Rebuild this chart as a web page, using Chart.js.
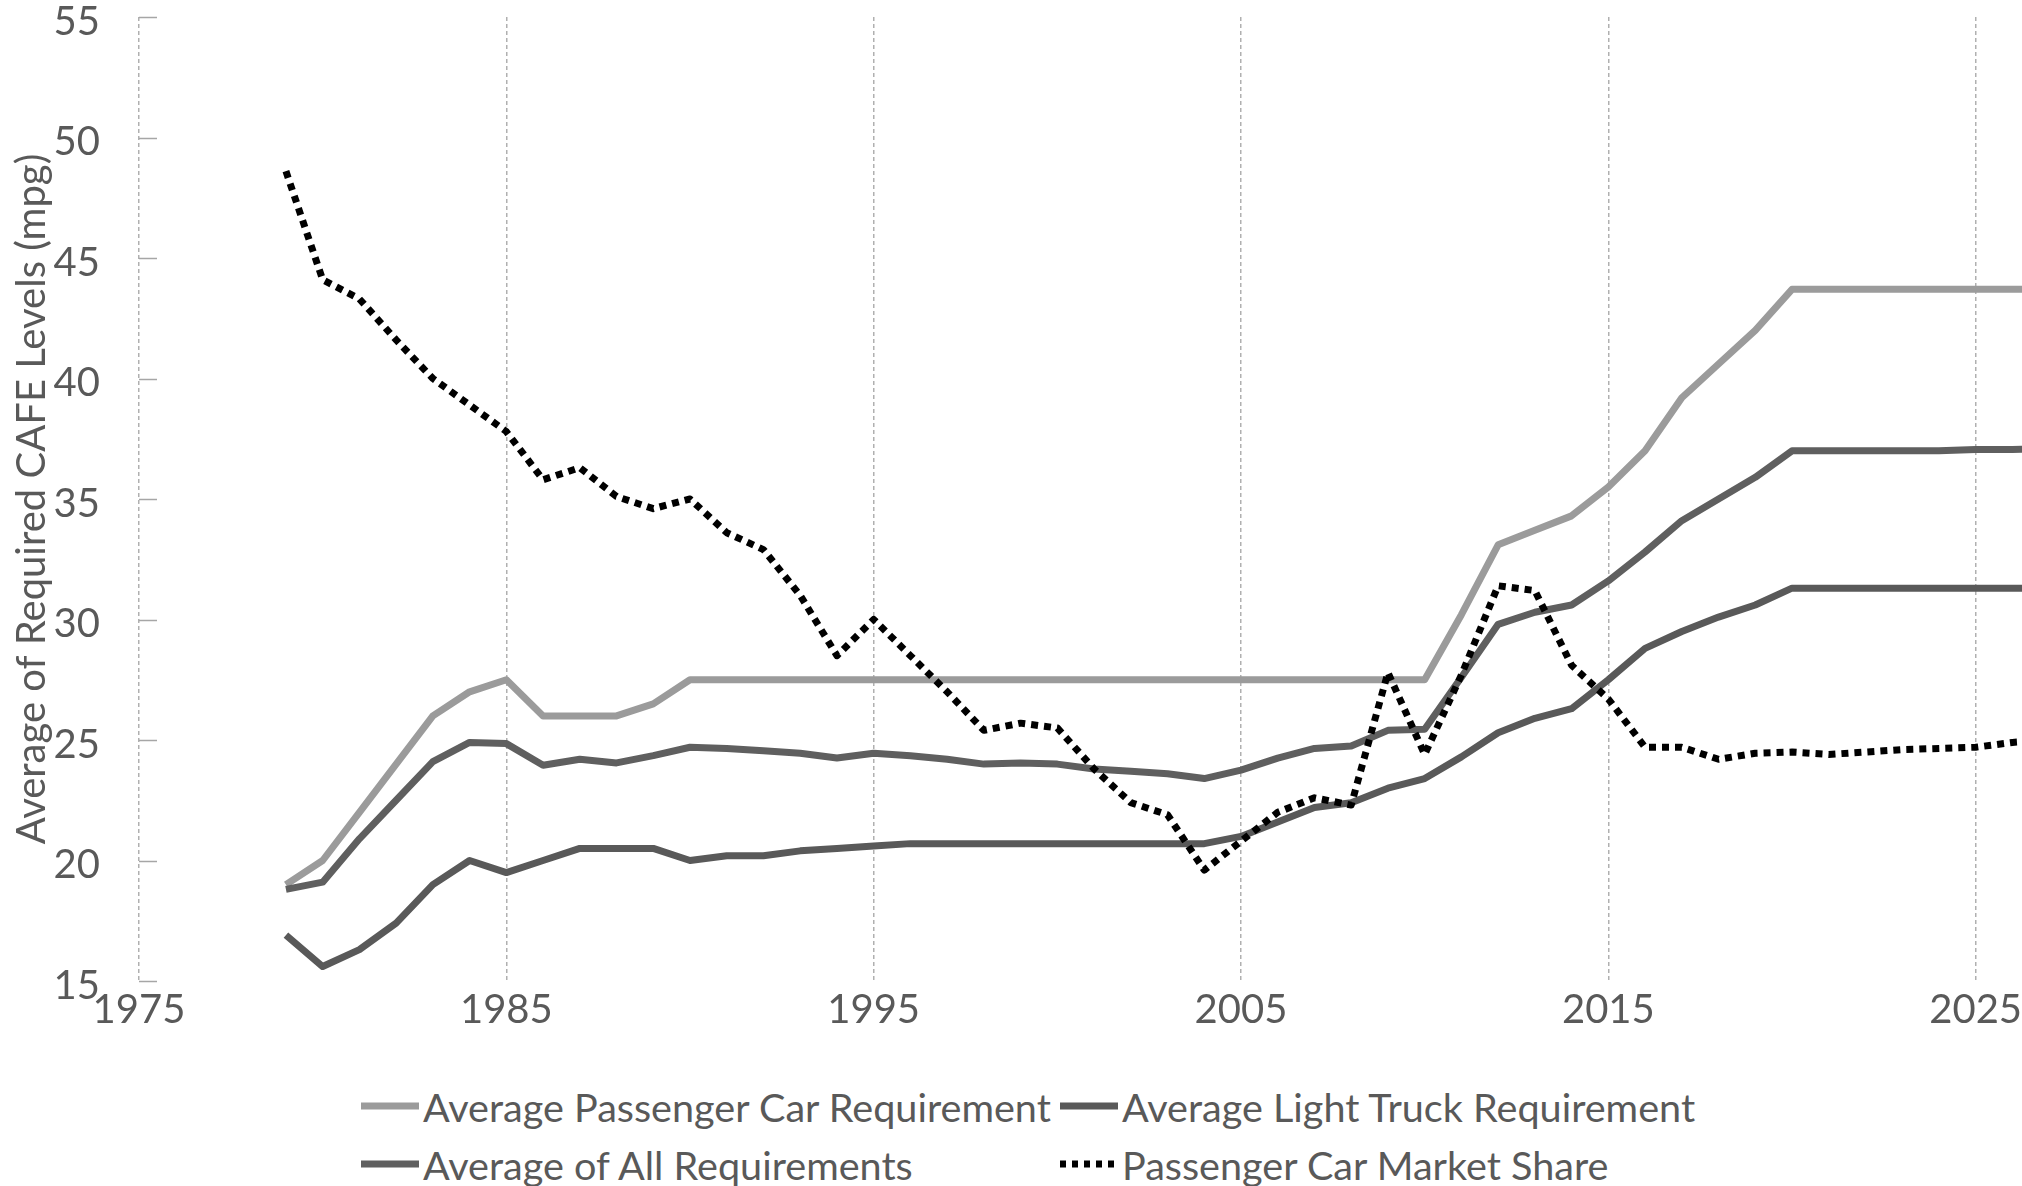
<!DOCTYPE html>
<html>
<head>
<meta charset="utf-8">
<script src="https://cdn.jsdelivr.net/npm/chart.js@4.4.1/dist/chart.umd.min.js"></script>
<style>
  html, body { margin: 0; padding: 0; background: #fff; }
  body { width: 2022px; height: 1186px; overflow: hidden; position: relative; font-family: Lato, sans-serif; }
  #chartCafe { position: absolute; left: 0; top: 0; }
  #legend {
    position: absolute; left: 361px; top: 1077px;
    display: grid; grid-template-columns: 699px auto; grid-auto-rows: 58px;
    color: #595959; font: 39.6px Lato, sans-serif;
  }
  #legend .item { display: flex; align-items: center; white-space: nowrap; }
  #legend svg { margin-right: 4px; flex: none; }
</style>
</head>
<body>
<canvas id="chartCafe" width="2343" height="1060"></canvas>
<div id="legend"></div>
<script>
const years = [
  1979, 1980, 1981, 1982, 1983, 1984, 1985, 1986, 1987, 1988, 1989,
  1990, 1991, 1992, 1993, 1994, 1995, 1996, 1997, 1998, 1999, 2000,
  2001, 2002, 2003, 2004, 2005, 2006, 2007, 2008, 2009, 2010,
  2011, 2012, 2013, 2014, 2015, 2016, 2017, 2018, 2019, 2020,
  2021, 2022, 2023, 2024, 2025, 2026, 2027
];

const passengerCar = [
  19.0, 20.0, 22.0, 24.0, 26.0, 27.0, 27.5, 26.0, 26.0, 26.0, 26.5,
  27.5, 27.5, 27.5, 27.5, 27.5, 27.5, 27.5, 27.5, 27.5, 27.5, 27.5,
  27.5, 27.5, 27.5, 27.5, 27.5, 27.5, 27.5, 27.5, 27.5, 27.5,
  30.2, 33.1, 33.7, 34.3, 35.5, 37.0, 39.2, 40.6, 42.0, 43.7,
  43.7, 43.7, 43.7, 43.7, 43.7, 43.7, 43.7
];

const lightTruck = [
  16.9, 15.6, 16.3, 17.4, 19.0, 20.0, 19.5, 20.0, 20.5, 20.5, 20.5,
  20.0, 20.2, 20.2, 20.4, 20.5, 20.6, 20.7, 20.7, 20.7, 20.7, 20.7,
  20.7, 20.7, 20.7, 20.7, 21.0, 21.6, 22.2, 22.4, 23.0, 23.4,
  24.3, 25.3, 25.9, 26.3, 27.5, 28.8, 29.5, 30.1, 30.6, 31.3,
  31.3, 31.3, 31.3, 31.3, 31.3, 31.3, 31.3
];

const allRequirements = [
  18.8, 19.1, 20.9, 22.5, 24.1, 24.9, 24.85, 23.95, 24.2, 24.05, 24.35,
  24.7, 24.65, 24.55, 24.45, 24.25, 24.45, 24.35, 24.2, 24.0, 24.05, 24.0,
  23.8, 23.7, 23.6, 23.4, 23.75, 24.25, 24.65, 24.75, 25.4, 25.45,
  27.6, 29.8, 30.3, 30.6, 31.6, 32.8, 34.1, 35.0, 35.9, 37.0,
  37.0, 37.0, 37.0, 37.0, 37.05, 37.05, 37.1
];

const marketShare = [
  48.6, 44.1, 43.3, 41.6, 40.0, 38.9, 37.8, 35.8, 36.3, 35.1, 34.6,
  35.0, 33.6, 32.9, 31.0, 28.5, 30.0, 28.5, 27.0, 25.4, 25.7, 25.5,
  23.8, 22.4, 21.9, 19.6, 20.8, 22.0, 22.6, 22.3, 27.8, 24.4,
  27.7, 31.4, 31.2, 28.1, 26.7, 24.7, 24.7, 24.2, 24.45, 24.5,
  24.4, 24.5, 24.6, 24.65, 24.7, 24.9, 25.0
];

const seriesLabels = [
  "Average Passenger Car Requirement",
  "Average Light Truck Requirement",
  "Average of All Requirements",
  "Passenger Car Market Share"
];

const yearTicks = [1975, 1985, 1995, 2005, 2015, 2025, 2035];
const mpgTicks = [15, 20, 25, 30, 35, 40, 45, 50, 55];

const textGray = "#595959";
const tickFont = { family: "Lato", size: 40 };
const titleFont = { family: "Lato", size: 40 };

function points(values) {
  return years.map((yr, i) => ({ x: yr, y: values[i] }));
}

// small tick marks pointing into the plot, Excel style
const innerTicks = {
  id: "innerTicks",
  beforeDatasetsDraw(chart) {
    const ctx = chart.ctx;
    const y = chart.scales.y;
    const left = chart.chartArea.left;
    ctx.save();
    ctx.strokeStyle = "#a6a6a6";
    ctx.lineWidth = 1.5;
    ctx.setLineDash([]);
    ctx.beginPath();
    y.ticks.forEach(t => {
      const py = Math.round(y.getPixelForValue(t.value)) + 0.5;
      ctx.moveTo(left, py);
      ctx.lineTo(left + 18, py);
    });
    ctx.stroke();
    ctx.restore();
  }
};

const ctxCafe = document.getElementById("chartCafe").getContext("2d");

const cafeChart = new Chart(ctxCafe, {
  type: "line",
  data: {
    datasets: [
      {
        label: seriesLabels[0],
        data: points(passengerCar),
        borderColor: "#9b9b9b",
        borderWidth: 7,
        order: 3
      },
      {
        label: seriesLabels[1],
        data: points(lightTruck),
        borderColor: "#595959",
        borderWidth: 7,
        order: 2
      },
      {
        label: seriesLabels[2],
        data: points(allRequirements),
        borderColor: "#5f5f5f",
        borderWidth: 7,
        order: 1
      },
      {
        label: seriesLabels[3],
        data: points(marketShare),
        borderColor: "#000000",
        borderWidth: 7,
        borderDash: [7, 6],
        borderCapStyle: "butt",
        order: 0
      }
    ]
  },
  options: {
    responsive: false,
    animation: false,
    devicePixelRatio: 1,
    layout: { padding: { top: 17, left: 0, right: 0, bottom: 0 } },
    elements: {
      point: { radius: 0, hoverRadius: 0 },
      line: { tension: 0, borderJoinStyle: "round", fill: false }
    },
    plugins: {
      legend: { display: false },
      tooltip: { enabled: false }
    },
    scales: {
      x: {
        type: "linear",
        min: 1975,
        max: 2035,
        afterBuildTicks: s => { s.ticks = yearTicks.map(v => ({ value: v })); },
        afterFit: s => { s.height = 79; s.paddingLeft = 0; s.paddingRight = 0; },
        ticks: {
          color: textGray,
          font: tickFont,
          padding: 5,
          maxRotation: 0,
          autoSkip: false,
          callback: v => String(v)
        },
        grid: { color: "#b0b0b0", lineWidth: 1.5, drawTicks: false },
        border: { display: false, dash: [4, 3] }
      },
      y: {
        min: 15,
        max: 55,
        afterBuildTicks: s => { s.ticks = mpgTicks.map(v => ({ value: v })); },
        afterFit: s => { s.width = 139; s.paddingTop = 0; s.paddingBottom = 0; },
        ticks: { color: textGray, font: tickFont, padding: 39, labelOffset: 5 },
        grid: { display: false, drawTicks: false },
        border: { display: false },
        title: {
          display: true,
          text: "Average of Required CAFE Levels (mpg)",
          color: textGray,
          font: titleFont,
          padding: { top: 8, bottom: 0 }
        }
      }
    }
  },
  plugins: [innerTicks]
});

// legend laid out in two aligned columns like the original
const legendBox = document.getElementById("legend");
cafeChart.data.datasets.forEach(ds => {
  const item = document.createElement("div");
  item.className = "item";
  const dash = ds.borderDash ? 'stroke-dasharray="6 6"' : "";
  item.innerHTML =
    '<svg width="58" height="12"><line x1="0" y1="6" x2="58" y2="6" stroke="' +
    ds.borderColor + '" stroke-width="7" ' + dash + '/></svg><span>' + ds.label + "</span>";
  legendBox.appendChild(item);
});
</script>
</body>
</html>
